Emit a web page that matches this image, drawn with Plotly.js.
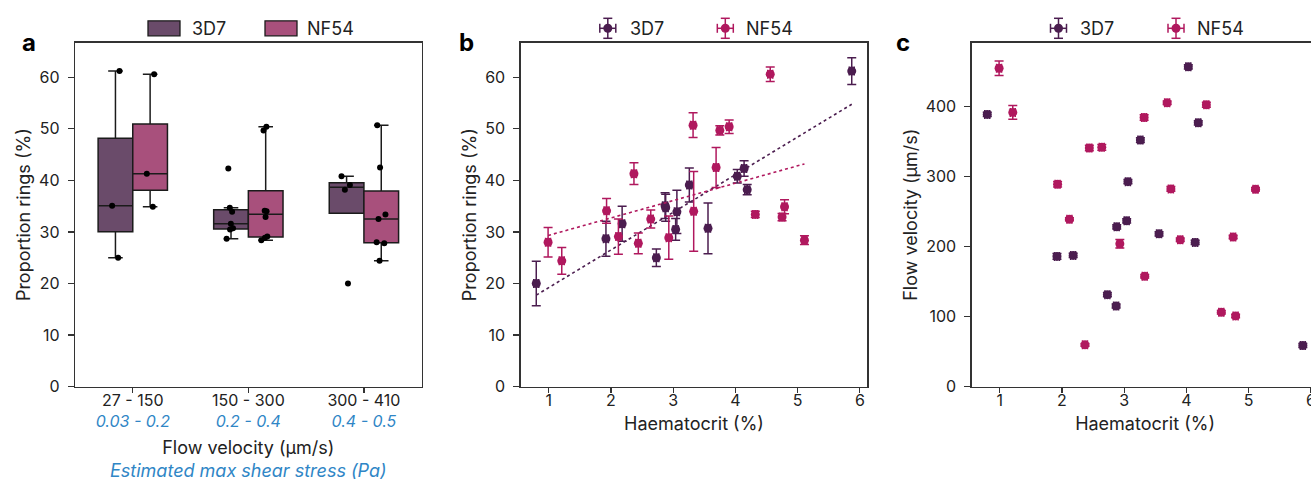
<!DOCTYPE html>
<html><head><meta charset="utf-8">
<script src="https://cdn.plot.ly/plotly-3.0.1.min.js"></script>
<style>
html,body{margin:0;padding:0;overflow:hidden;background:#fff;width:1311px;height:479px}
#chart{width:1320px;height:484px}
</style>
</head><body><div id="chart"></div>
<script>
// ---------------- data ----------------
const strains = ['3D7', 'NF54'];
const flowCategories = ['27 - 150', '150 - 300', '300 - 410'];
const shearLabels = ['0.03 - 0.2', '0.2 - 0.4', '0.4 - 0.5'];
const flowBinEdges = [150, 300];

// 3D7 experiments
const hct3D7       = [0.80, 1.92, 2.18, 2.73, 2.87, 2.88, 3.04, 3.06, 3.26, 3.56, 4.03, 4.14, 4.19, 5.87];
const hctErr3D7    = [0.04, 0.04, 0.04, 0.04, 0.04, 0.04, 0.04, 0.04, 0.04, 0.04, 0.04, 0.04, 0.04, 0.04];
const rings3D7     = [20.0, 28.7, 31.6, 25.0, 35.1, 34.7, 30.5, 33.9, 39.1, 30.7, 40.8, 42.3, 38.2, 61.2];
const ringsErr3D7  = [4.3, 3.4, 3.4, 1.7, 2.5, 2.6, 2.1, 4.2, 3.3, 4.9, 1.3, 1.5, 1.0, 2.6];
const flow3D7      = [388.6, 186.0, 187.4, 131.4, 115.2, 228.2, 236.7, 292.7, 352.0, 218.2, 456.5, 205.9, 376.7, 58.8];
const flowErr3D7   = [3, 4, 3, 3, 3, 3, 3, 3, 3.5, 3, 3, 3, 3, 3];

// NF54 experiments
const hctNF54      = [0.99, 1.21, 1.93, 2.12, 2.37, 2.44, 2.64, 2.93, 3.32, 3.33, 3.69, 3.75, 3.90, 4.32, 4.56, 4.75, 4.79, 5.11];
const hctErrNF54   = [0.04, 0.04, 0.04, 0.04, 0.04, 0.04, 0.04, 0.04, 0.04, 0.04, 0.04, 0.04, 0.04, 0.04, 0.04, 0.04, 0.04, 0.04];
const ringsNF54    = [28.0, 24.4, 34.1, 29.1, 41.3, 27.8, 32.5, 28.9, 50.7, 34.0, 42.5, 49.7, 50.4, 33.4, 60.6, 32.9, 34.9, 28.4];
const ringsErrNF54 = [2.85, 2.6, 2.4, 3.4, 2.1, 2.0, 1.75, 4.2, 2.4, 7.75, 3.9, 0.9, 1.3, 0.6, 1.4, 0.7, 1.35, 0.85];
const flowNF54     = [454.6, 391.5, 289.0, 239.0, 59.7, 340.7, 341.6, 204.0, 384.3, 157.5, 405.2, 282.3, 209.7, 402.4, 106.2, 213.5, 101.0, 281.8];
const flowErrNF54  = [10.4, 9.7, 4, 2, 2, 4, 4, 6, 4, 2.5, 2.5, 3.5, 2.5, 3.5, 2.5, 2.5, 2.5, 2.5];

// ---------------- styling ----------------
const boxFill = {'3D7': '#6a4b6a', 'NF54': '#a8507c'};
const pointColor = {'3D7': '#4b1d4f', 'NF54': '#b0185e'};
const shearColor = '#2f86c6';
const FONT = 'Inter, "DejaVu Sans", sans-serif';
const W = 1320, H = 484;
const px = v => v / W, py = v => 1 - v / H;

function binOf(f) { return f < flowBinEdges[0] ? 0 : (f < flowBinEdges[1] ? 1 : 2); }
function fit(xs, ys) {
  const n = xs.length;
  const mx = xs.reduce((a, b) => a + b, 0) / n, my = ys.reduce((a, b) => a + b, 0) / n;
  let sxy = 0, sxx = 0;
  for (let i = 0; i < n; i++) { sxy += (xs[i] - mx) * (ys[i] - my); sxx += (xs[i] - mx) ** 2; }
  const s = sxy / sxx, b = my - s * mx;
  const x0 = Math.min(...xs), x1 = Math.max(...xs);
  return {x: [x0, x1], y: [b + s * x0, b + s * x1]};
}
function pct(sorted, p) {
  const pos = (sorted.length - 1) * p, lo = Math.floor(pos), hi = Math.ceil(pos);
  return sorted[lo] + (sorted[hi] - sorted[lo]) * (pos - lo);
}
function boxStats(vals) {
  const s = vals.slice().sort((a, b) => a - b);
  const q1 = pct(s, 0.25), med = pct(s, 0.5), q3 = pct(s, 0.75), iqr = q3 - q1;
  const inLo = s.filter(v => v >= q1 - 1.5 * iqr), inHi = s.filter(v => v <= q3 + 1.5 * iqr);
  const lf = Math.min(q1, Math.min(...inLo)), uf = Math.max(q3, Math.max(...inHi));
  return {q1, med, q3, lf, uf};
}

const series = {
  '3D7':  {hct: hct3D7, hctErr: hctErr3D7, rings: rings3D7, ringsErr: ringsErr3D7, flow: flow3D7, flowErr: flowErr3D7},
  'NF54': {hct: hctNF54, hctErr: hctErrNF54, rings: ringsNF54, ringsErr: ringsErrNF54, flow: flowNF54, flowErr: flowErrNF54}
};

const traces = [];
// panel a: boxes (stats computed like numpy / matplotlib)
strains.forEach(s => {
  const d = series[s];
  const st = flowCategories.map((c, k) => boxStats(d.rings.filter((v, i) => binOf(d.flow[i]) === k)));
  traces.push({
    type: 'box', xaxis: 'x', yaxis: 'y', name: s, showlegend: false, offsetgroup: s,
    x: flowCategories, q1: st.map(o => o.q1), median: st.map(o => o.med), q3: st.map(o => o.q3),
    lowerfence: st.map(o => o.lf), upperfence: st.map(o => o.uf),
    fillcolor: boxFill[s], line: {color: '#1b1b1b', width: 1.5}, boxpoints: false,
    whiskerwidth: 0.42, hoverinfo: 'skip'
  });
});
// panel a: individual points overlaid on each box
strains.forEach(s => {
  const d = series[s];
  traces.push({
    type: 'box', xaxis: 'x', yaxis: 'y', name: s + ' points', showlegend: false, offsetgroup: s,
    x: d.flow.map(f => flowCategories[binOf(f)]), y: d.rings,
    fillcolor: 'rgba(0,0,0,0)', line: {color: 'rgba(0,0,0,0)', width: 0},
    boxpoints: 'all', jitter: 0.3, pointpos: 0,
    marker: {color: '#000', size: 6}, hoverinfo: 'y'
  });
});
// panel b and c: error-bar scatters
strains.forEach(s => {
  const d = series[s], c = pointColor[s];
  const eb = arr => ({type: 'data', array: arr, visible: true, color: c, thickness: 1.5, width: 4.5});
  traces.push({
    type: 'scatter', mode: 'markers', xaxis: 'x2', yaxis: 'y2', name: s, showlegend: false,
    x: d.hct, y: d.rings, error_y: eb(d.ringsErr), error_x: eb(d.hctErr),
    marker: {color: c, size: 9}
  });
  const f = fit(d.hct, d.rings);
  traces.push({
    type: 'scatter', mode: 'lines', xaxis: 'x2', yaxis: 'y2', showlegend: false,
    x: f.x, y: f.y, line: {color: c, width: 1.6, dash: 'dot'}, hoverinfo: 'skip'
  });
  traces.push({
    type: 'scatter', mode: 'markers', xaxis: 'x3', yaxis: 'y3', name: s, showlegend: false,
    x: d.hct, y: d.flow, error_y: eb(d.flowErr), error_x: eb(d.hctErr),
    marker: {color: c, size: 9}
  });
});

// ---------------- legends (drawn as layout shapes + text) ----------------
const shapes = [], annotations = [];
const LEG_Y = 28.3;
const legFont = {family: FONT, size: 18, color: '#222'};
function legendText(txt, x) {
  annotations.push({text: txt, x: px(x), y: py(LEG_Y), xref: 'paper', yref: 'paper',
    xanchor: 'left', yanchor: 'middle', showarrow: false, font: legFont});
}
[[148, 190], [265, 305]].forEach(([sx, tx], i) => {
  const s = strains[i];
  shapes.push({type: 'rect', xref: 'paper', yref: 'paper', x0: px(sx), x1: px(sx + 32),
    y0: py(LEG_Y - 7.5), y1: py(LEG_Y + 7.5), fillcolor: boxFill[s], line: {color: '#1b1b1b', width: 1.3}});
  legendText(s, tx);
});
function errGlyph(cx, color) {
  const L = (x0, y0, x1, y1) => shapes.push({type: 'line', xref: 'paper', yref: 'paper',
    x0: px(x0), y0: py(y0), x1: px(x1), y1: py(y1), line: {color: color, width: 1.5}});
  const cy = LEG_Y;
  L(cx, cy - 10, cx, cy + 10); L(cx - 4.5, cy - 10, cx + 4.5, cy - 10); L(cx - 4.5, cy + 10, cx + 4.5, cy + 10);
  L(cx - 8, cy, cx + 8, cy); L(cx - 8, cy - 4.5, cx - 8, cy + 4.5); L(cx + 8, cy - 4.5, cx + 8, cy + 4.5);
  shapes.push({type: 'circle', xref: 'paper', yref: 'paper', x0: px(cx - 4.5), x1: px(cx + 4.5),
    y0: py(cy + 4.5), y1: py(cy - 4.5), fillcolor: color, line: {color: color, width: 0}});
}
[[607.8, 627.7, 725.3, 744], [1058.5, 1078, 1176, 1195]].forEach(([g1, t1, g2, t2]) => {
  errGlyph(g1, pointColor['3D7']); legendText('3D7', t1);
  errGlyph(g2, pointColor['NF54']); legendText('NF54', t2);
});
[['a', 20], ['b', 467], ['c', 912]].forEach(([l, x]) => annotations.push({
  text: '<b>' + l + '</b>', x: px(x), y: py(26), xref: 'paper', yref: 'paper', showarrow: false,
  font: {family: FONT, size: 24, color: '#000'}}));

const axisBase = {
  showline: true, mirror: true, linecolor: '#333', linewidth: 1.3,
  ticks: 'outside', ticklen: 5, tickwidth: 1.3, tickcolor: '#333',
  showgrid: false, zeroline: false,
  tickfont: {family: FONT, size: 16, color: '#222'}
};
const yBase = Object.assign({}, axisBase, {ticklen: 6, ticklabelstandoff: 5});
const titleFont = {family: FONT, size: 18, color: '#222'};
const yDom = [py(386.7), py(42.7)];

// panel a x-axis title (two lines: flow velocity + estimated shear stress)
annotations.push({
  text: 'Flow velocity (µm/s)<br><span style="color:' + shearColor + '"><i>Estimated max shear stress (Pa)</i></span>',
  x: px(248.3), y: py(458.5), xref: 'paper', yref: 'paper', xanchor: 'center', yanchor: 'middle',
  showarrow: false, font: titleFont
});

const layout = {
  width: W, height: H, paper_bgcolor: '#fff', plot_bgcolor: '#fff',
  margin: {l: 0, r: 0, t: 0, b: 0}, showlegend: false,
  boxmode: 'group', boxgap: 0.4, boxgroupgap: 0,
  font: {family: FONT, color: '#222'},
  shapes: shapes, annotations: annotations,
  xaxis: Object.assign({}, axisBase, {
    domain: [px(75), px(421.7)], anchor: 'y', type: 'category',
    categoryorder: 'array', categoryarray: flowCategories,
    range: [-0.5, 2.5], tickmode: 'array', tickvals: flowCategories, ticklabelstandoff: -6,
    ticktext: flowCategories.map((c, i) => c + '<br><span style="color:' + shearColor + '"><i>' + shearLabels[i] + '</i></span>')
  }),
  yaxis: Object.assign({}, yBase, {
    domain: yDom, anchor: 'x', range: [0, 66.7], tickvals: [0, 10, 20, 30, 40, 50, 60],
    title: {text: 'Proportion rings (%)', font: titleFont, standoff: 3}
  }),
  xaxis2: Object.assign({}, axisBase, {
    domain: [px(520.7), px(867.3)], anchor: 'y2', range: [0.55, 6.12], tickvals: [1, 2, 3, 4, 5, 6], ticklabelstandoff: -6,
    title: {text: 'Haematocrit (%)', font: titleFont, standoff: 8}
  }),
  yaxis2: Object.assign({}, yBase, {
    domain: yDom, anchor: 'x2', range: [0, 66.7], tickvals: [0, 10, 20, 30, 40, 50, 60],
    title: {text: 'Proportion rings (%)', font: titleFont, standoff: 3}
  }),
  xaxis3: Object.assign({}, axisBase, {
    domain: [px(971.7), px(1318.4)], anchor: 'y3', range: [0.55, 6.12], tickvals: [1, 2, 3, 4, 5, 6], ticklabelstandoff: -6,
    title: {text: 'Haematocrit (%)', font: titleFont, standoff: 8}
  }),
  yaxis3: Object.assign({}, yBase, {
    domain: yDom, anchor: 'x3', range: [0, 491], tickvals: [0, 100, 200, 300, 400],
    title: {text: 'Flow velocity (µm/s)', font: titleFont, standoff: 3}
  })
};

Plotly.newPlot('chart', traces, layout, {displayModeBar: false, staticPlot: true});
</script>
</body></html>
